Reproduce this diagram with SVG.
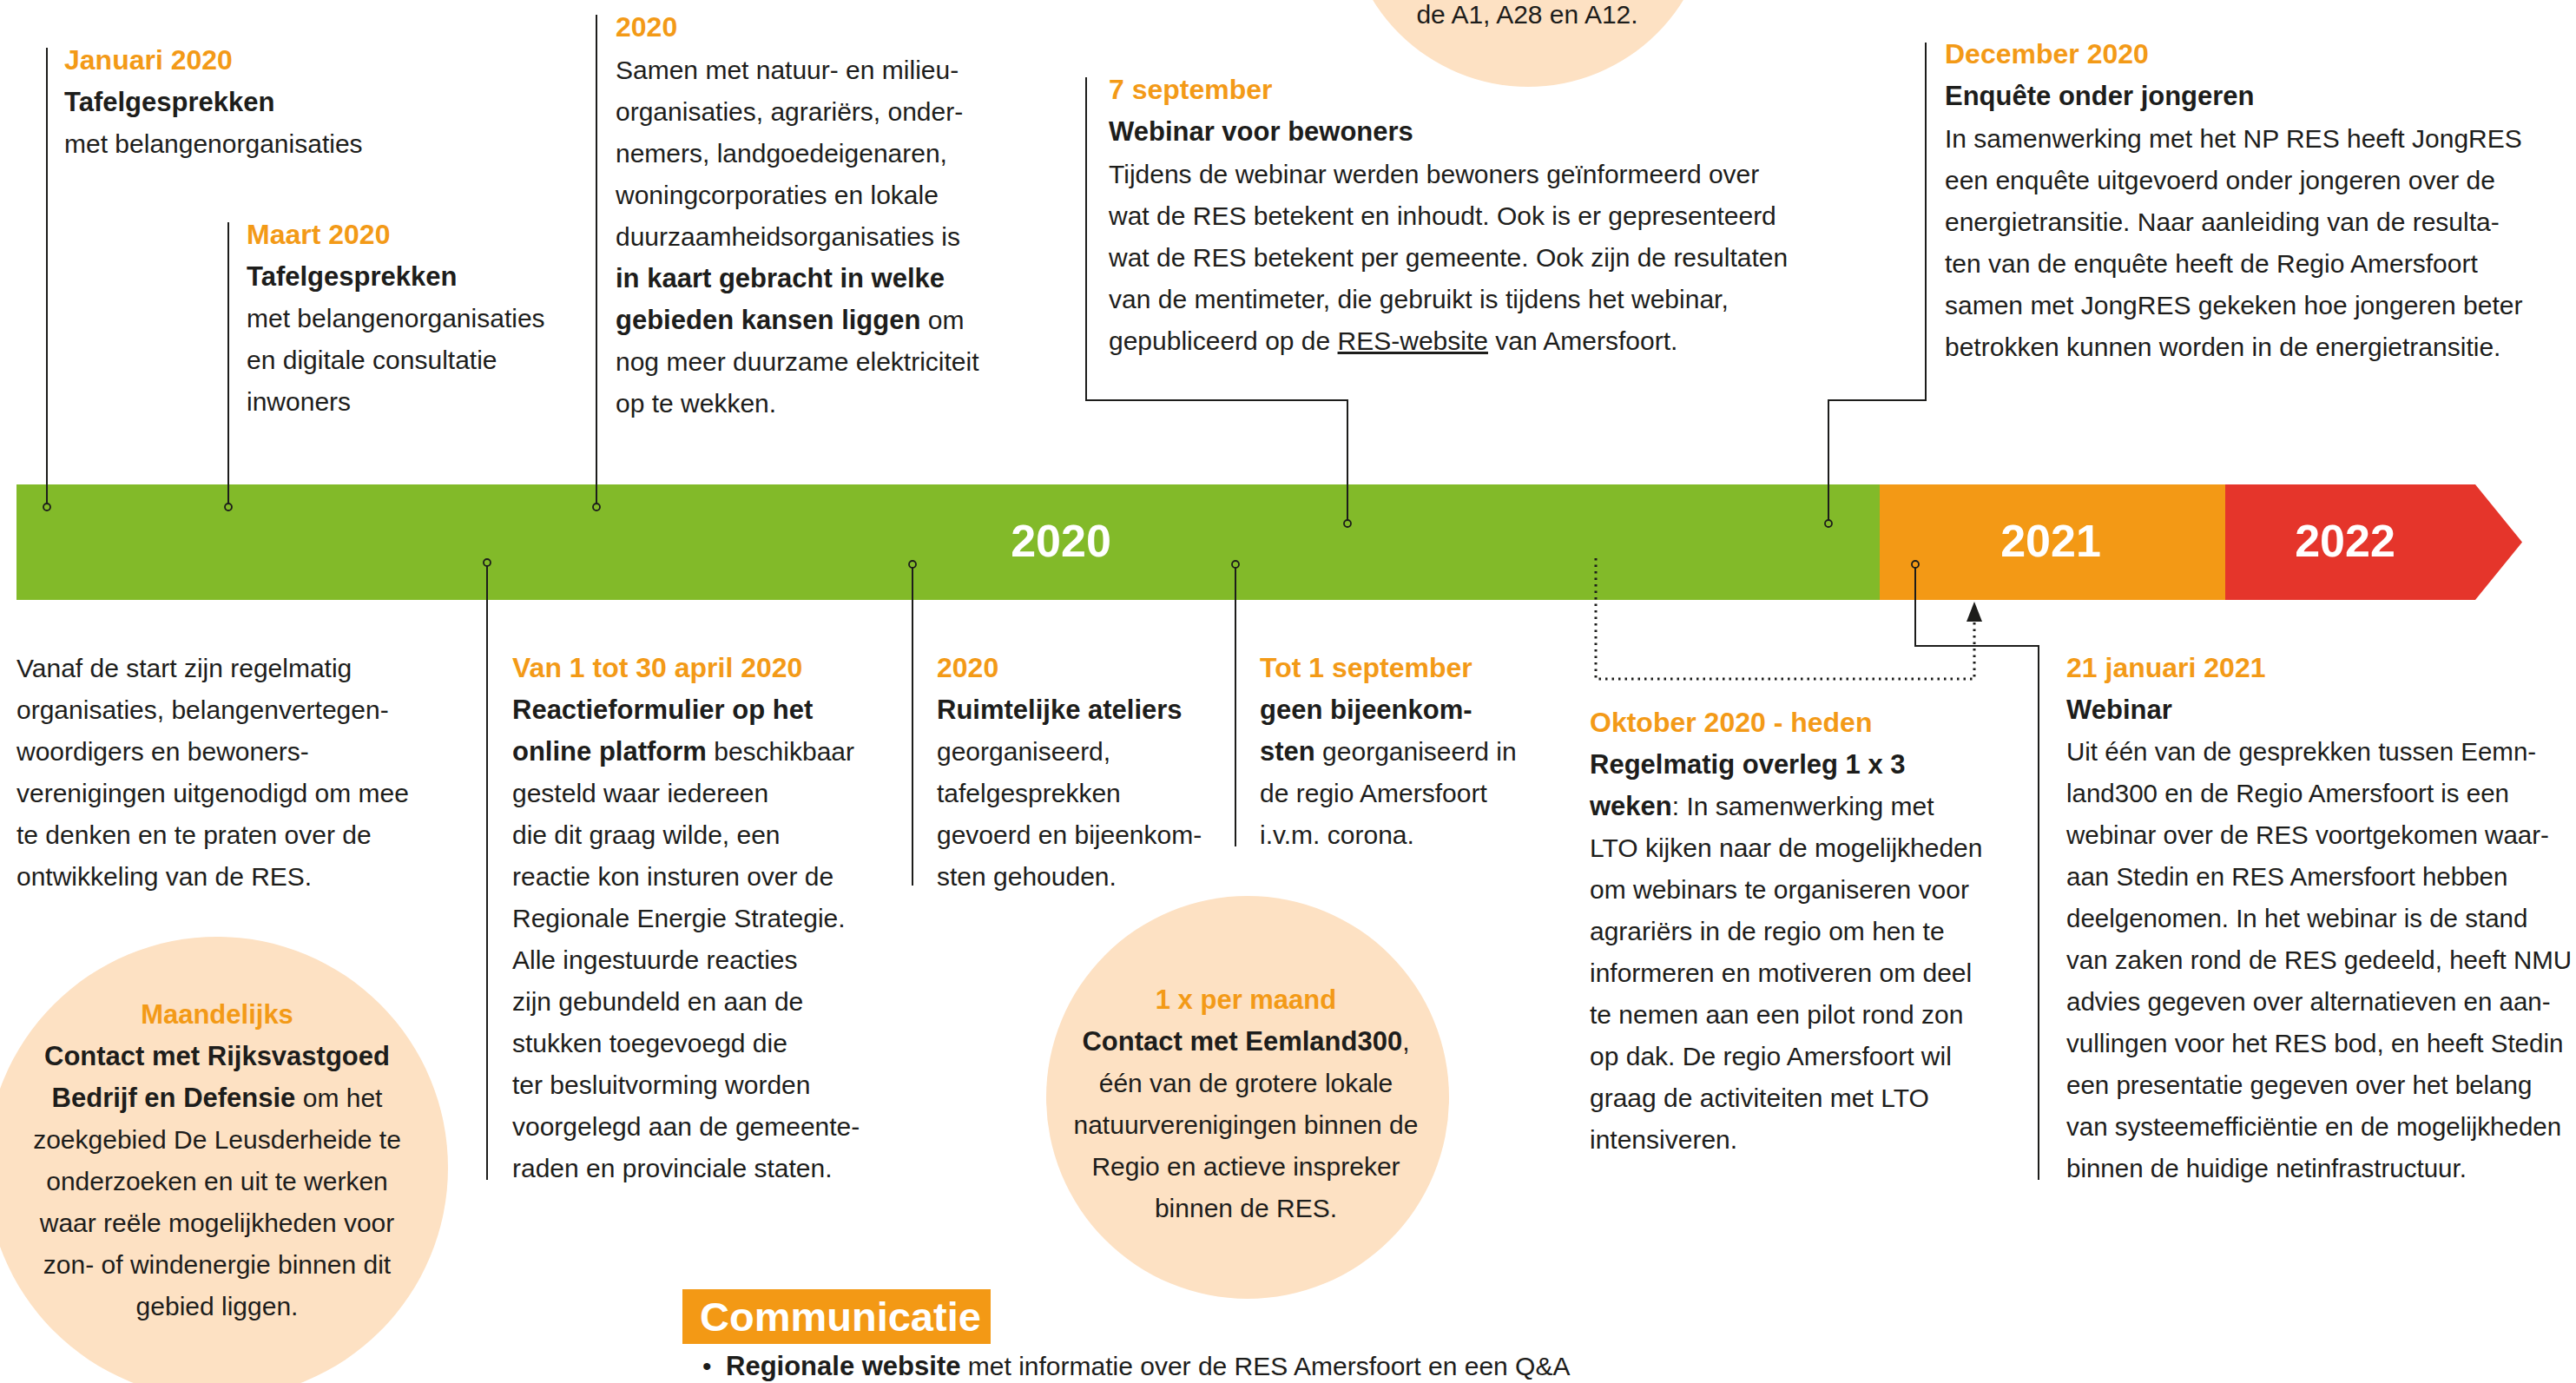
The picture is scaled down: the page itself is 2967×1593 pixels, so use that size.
<svg xmlns="http://www.w3.org/2000/svg" width="2967" height="1593" viewBox="0 0 2967 1593">
<style>
text{font-family:"Liberation Sans",Arial,sans-serif;fill:#1d1d1b;font-size:30px}
.b{font-weight:bold;font-size:31px}
.h{font-weight:bold;font-size:32px;fill:#F39A17}
.yr{font-weight:bold;font-size:52px;fill:#fff;text-anchor:middle}
.c{text-anchor:middle}
.ln{stroke:#1d1d1b;stroke-width:2;fill:none}
.dot{fill:none;stroke:#1d1d1b;stroke-width:1.8}
.dsh{stroke:#1d1d1b;stroke-width:3;fill:none;stroke-dasharray:2.5 5}
.peach{fill:#FDE1C3}
</style>

<g id="bubble-top">
<circle class="peach" cx="1760" cy="-110" r="210"/>
<text class="c" x="1759" y="27">de A1, A28 en A12.</text>
</g>
<g id="bubble-maandelijks">
<circle class="peach" cx="250" cy="1345" r="266"/>
<text class="c"><tspan class="h" x="250" y="1179" style="font-size:31px">Maandelijks</tspan><tspan class="b" x="250" y="1227">Contact met Rijksvastgoed</tspan><tspan x="250" y="1275"><tspan class="b">Bedrijf en Defensie</tspan> om het</tspan><tspan x="250" y="1323">zoekgebied De Leusderheide te</tspan><tspan x="250" y="1371">onderzoeken en uit te werken</tspan><tspan x="250" y="1419">waar reële mogelijkheden voor</tspan><tspan x="250" y="1467">zon- of windenergie binnen dit</tspan><tspan x="250" y="1515">gebied liggen.</tspan></text>
</g>
<g id="bubble-eemland">
<circle class="peach" cx="1437" cy="1264" r="232"/>
<text class="c"><tspan class="h" x="1435" y="1162" style="font-size:31px">1 x per maand</tspan><tspan x="1435" y="1210"><tspan class="b">Contact met Eemland300</tspan>,</tspan><tspan x="1435" y="1258">één van de grotere lokale</tspan><tspan x="1435" y="1306">natuurverenigingen binnen de</tspan><tspan x="1435" y="1354">Regio en actieve inspreker</tspan><tspan x="1435" y="1402">binnen de RES.</tspan></text>
</g>

<g id="timeline">
<rect x="19" y="558" width="2146" height="133" fill="#82BA29"/>
<rect x="2165" y="558" width="398" height="133" fill="#F39915"/>
<path d="M2563,558 H2851 L2905,624.5 L2851,691 H2563 Z" fill="#E5352B"/>
<text class="yr" x="1222" y="641">2020</text>
<text class="yr" x="2362" y="641">2021</text>
<text class="yr" x="2701" y="641">2022</text>
</g>

<g id="connectors">
<path class="ln" d="M54,55 V580"/>
<circle class="dot" cx="54" cy="584" r="4"/>
<path class="ln" d="M263,256 V580"/>
<circle class="dot" cx="263" cy="584" r="4"/>
<path class="ln" d="M687,17 V580"/>
<circle class="dot" cx="687" cy="584" r="4"/>
<path class="ln" d="M1251,89 V461 H1552 V599"/>
<circle class="dot" cx="1552" cy="603" r="4"/>
<path class="ln" d="M2218,49 V461 H2106 V599"/>
<circle class="dot" cx="2106" cy="603" r="4"/>
<path class="ln" d="M561,652 V1359"/>
<circle class="dot" cx="561" cy="648" r="4"/>
<path class="ln" d="M1051,654 V1020"/>
<circle class="dot" cx="1051" cy="650" r="4"/>
<path class="ln" d="M1423,654 V975"/>
<circle class="dot" cx="1423" cy="650" r="4"/>
<path class="ln" d="M2206,654 V744 H2348 V1359"/>
<circle class="dot" cx="2206" cy="650" r="4"/>
<path class="dsh" d="M1838,643 V782 H2274 V716"/>
<path d="M2274,693 L2283,716 L2265,716 Z" fill="#1d1d1b"/>
</g>

<g id="januari-2020">
<text><tspan class="h" x="74" y="80">Januari 2020</tspan><tspan class="b" x="74" y="128">Tafelgesprekken</tspan><tspan x="74" y="176">met belangenorganisaties</tspan></text>
</g>
<g id="maart-2020">
<text><tspan class="h" x="284" y="281">Maart 2020</tspan><tspan class="b" x="284" y="329">Tafelgesprekken</tspan><tspan x="284" y="377">met belangenorganisaties</tspan><tspan x="284" y="425">en digitale consultatie</tspan><tspan x="284" y="473">inwoners</tspan></text>
</g>
<g id="top-2020">
<text><tspan class="h" x="709" y="42">2020</tspan><tspan x="709" y="91">Samen met natuur- en milieu-</tspan><tspan x="709" y="139">organisaties, agrariërs, onder-</tspan><tspan x="709" y="187">nemers, landgoedeigenaren,</tspan><tspan x="709" y="235">woningcorporaties en lokale</tspan><tspan x="709" y="283">duurzaamheidsorganisaties is</tspan><tspan class="b" x="709" y="331">in kaart gebracht in welke</tspan><tspan x="709" y="379"><tspan class="b">gebieden kansen liggen</tspan> om</tspan><tspan x="709" y="427">nog meer duurzame elektriciteit</tspan><tspan x="709" y="475">op te wekken.</tspan></text>
</g>
<g id="sept-7">
<text><tspan class="h" x="1277" y="114">7 september</tspan><tspan class="b" x="1277" y="162">Webinar voor bewoners</tspan><tspan x="1277" y="211">Tijdens de webinar werden bewoners geïnformeerd over</tspan><tspan x="1277" y="259">wat de RES betekent en inhoudt. Ook is er gepresenteerd</tspan><tspan x="1277" y="307">wat de RES betekent per gemeente. Ook zijn de resultaten</tspan><tspan x="1277" y="355">van de mentimeter, die gebruikt is tijdens het webinar,</tspan><tspan x="1277" y="403">gepubliceerd op de <tspan text-decoration="underline">RES-website</tspan> van Amersfoort.</tspan></text>
</g>
<g id="december-2020">
<text><tspan class="h" x="2240" y="73">December 2020</tspan><tspan class="b" x="2240" y="121">Enquête onder jongeren</tspan><tspan x="2240" y="170">In samenwerking met het NP RES heeft JongRES</tspan><tspan x="2240" y="218">een enquête uitgevoerd onder jongeren over de</tspan><tspan x="2240" y="266">energietransitie. Naar aanleiding van de resulta-</tspan><tspan x="2240" y="314">ten van de enquête heeft de Regio Amersfoort</tspan><tspan x="2240" y="362">samen met JongRES gekeken hoe jongeren beter</tspan><tspan x="2240" y="410">betrokken kunnen worden in de energietransitie.</tspan></text>
</g>

<g id="vanaf-start">
<text><tspan x="19" y="780">Vanaf de start zijn regelmatig</tspan><tspan x="19" y="828">organisaties, belangenvertegen-</tspan><tspan x="19" y="876">woordigers en bewoners-</tspan><tspan x="19" y="924">verenigingen uitgenodigd om mee</tspan><tspan x="19" y="972">te denken en te praten over de</tspan><tspan x="19" y="1020">ontwikkeling van de RES.</tspan></text>
</g>
<g id="april-2020">
<text><tspan class="h" x="590" y="780">Van 1 tot 30 april 2020</tspan><tspan class="b" x="590" y="828">Reactieformulier op het</tspan><tspan x="590" y="876"><tspan class="b">online platform</tspan> beschikbaar</tspan><tspan x="590" y="924">gesteld waar iedereen</tspan><tspan x="590" y="972">die dit graag wilde, een</tspan><tspan x="590" y="1020">reactie kon insturen over de</tspan><tspan x="590" y="1068">Regionale Energie Strategie.</tspan><tspan x="590" y="1116">Alle ingestuurde reacties</tspan><tspan x="590" y="1164">zijn gebundeld en aan de</tspan><tspan x="590" y="1212">stukken toegevoegd die</tspan><tspan x="590" y="1260">ter besluitvorming worden</tspan><tspan x="590" y="1308">voorgelegd aan de gemeente-</tspan><tspan x="590" y="1356">raden en provinciale staten.</tspan></text>
</g>
<g id="bottom-2020">
<text><tspan class="h" x="1079" y="780">2020</tspan><tspan class="b" x="1079" y="828">Ruimtelijke ateliers</tspan><tspan x="1079" y="876">georganiseerd,</tspan><tspan x="1079" y="924">tafelgesprekken</tspan><tspan x="1079" y="972">gevoerd en bijeenkom-</tspan><tspan x="1079" y="1020">sten gehouden.</tspan></text>
</g>
<g id="tot-1-september">
<text><tspan class="h" x="1451" y="780">Tot 1 september</tspan><tspan class="b" x="1451" y="828">geen bijeenkom-</tspan><tspan x="1451" y="876"><tspan class="b">sten</tspan> georganiseerd in</tspan><tspan x="1451" y="924">de regio Amersfoort</tspan><tspan x="1451" y="972">i.v.m. corona.</tspan></text>
</g>
<g id="oktober-2020">
<text><tspan class="h" x="1831" y="843">Oktober 2020 - heden</tspan><tspan class="b" x="1831" y="891">Regelmatig overleg 1 x 3</tspan><tspan x="1831" y="939"><tspan class="b">weken</tspan>: In samenwerking met</tspan><tspan x="1831" y="987">LTO kijken naar de mogelijkheden</tspan><tspan x="1831" y="1035">om webinars te organiseren voor</tspan><tspan x="1831" y="1083">agrariërs in de regio om hen te</tspan><tspan x="1831" y="1131">informeren en motiveren om deel</tspan><tspan x="1831" y="1179">te nemen aan een pilot rond zon</tspan><tspan x="1831" y="1227">op dak. De regio Amersfoort wil</tspan><tspan x="1831" y="1275">graag de activiteiten met LTO</tspan><tspan x="1831" y="1323">intensiveren.</tspan></text>
</g>
<g id="januari-2021">
<text style="font-size:29.5px"><tspan class="h" x="2380" y="780">21 januari 2021</tspan><tspan class="b" x="2380" y="828">Webinar</tspan><tspan x="2380" y="876">Uit één van de gesprekken tussen Eemn-</tspan><tspan x="2380" y="924">land300 en de Regio Amersfoort is een</tspan><tspan x="2380" y="972">webinar over de RES voortgekomen waar-</tspan><tspan x="2380" y="1020">aan Stedin en RES Amersfoort hebben</tspan><tspan x="2380" y="1068">deelgenomen. In het webinar is de stand</tspan><tspan x="2380" y="1116">van zaken rond de RES gedeeld, heeft NMU</tspan><tspan x="2380" y="1164">advies gegeven over alternatieven en aan-</tspan><tspan x="2380" y="1212">vullingen voor het RES bod, en heeft Stedin</tspan><tspan x="2380" y="1260">een presentatie gegeven over het belang</tspan><tspan x="2380" y="1308">van systeemefficiëntie en de mogelijkheden</tspan><tspan x="2380" y="1356">binnen de huidige netinfrastructuur.</tspan></text>
</g>

<g id="communicatie">
<rect x="786" y="1485" width="355" height="63" fill="#F39915"/>
<text x="806" y="1533" style="font-weight:bold;font-size:47px;fill:#fff">Communicatie</text>
<text x="809" y="1584"><tspan>•</tspan><tspan x="836" class="b">Regionale website</tspan><tspan> met informatie over de RES Amersfoort en een Q&amp;A</tspan></text>
</g>
</svg>
